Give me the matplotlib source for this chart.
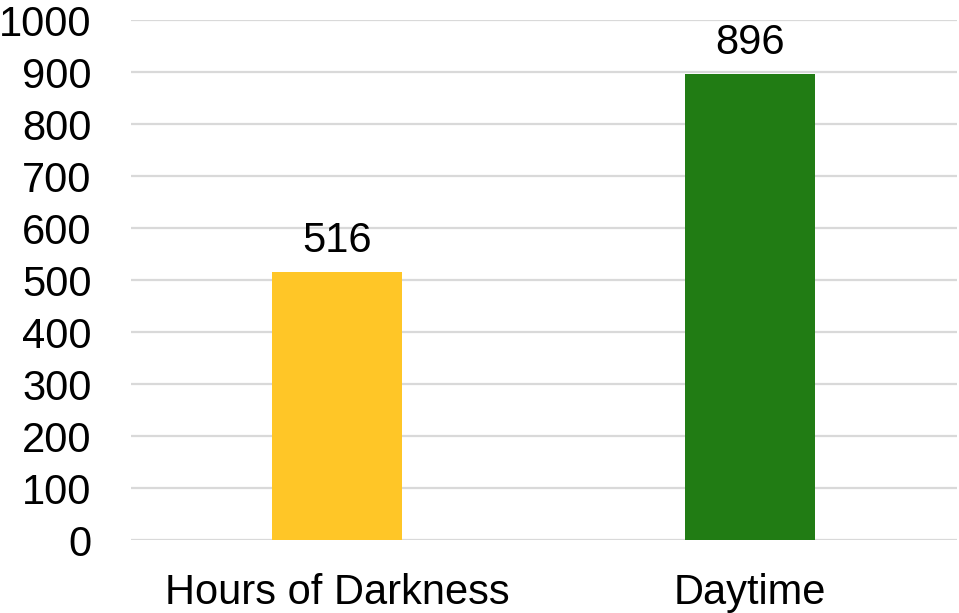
import matplotlib
matplotlib.use("Agg")
import matplotlib.pyplot as plt

categories = ["Hours of Darkness", "Daytime"]
values = [516, 896]
colors = ["#FFC627", "#217C14"]
yticks = [0, 100, 200, 300, 400, 500, 600, 700, 800, 900, 1000]

plt.rcParams['font.family'] = ['Liberation Sans', 'DejaVu Sans']

fig = plt.figure(figsize=(9.59, 6.13), dpi=100)
ax = fig.add_axes([130.5/959, 1-540/613, 826/959, 520/613])

x = range(len(categories))
bars = ax.bar(x, values, width=0.315, color=colors, zorder=2)
for xi, v in zip(x, values):
    ax.annotate(str(v), (xi, v), xytext=(0, 8), textcoords='offset points',
                ha='center', va='bottom', fontsize=30, color='black')

ax.set_xlim(-0.5, 1.5)
ax.set_ylim(0, 1000)
ax.set_yticks(yticks)
ax.set_yticklabels([str(t) for t in yticks])
ax.set_xticks(list(x))
ax.set_xticklabels(categories)
ax.tick_params(axis='y', length=0, pad=28, labelsize=30)
ax.tick_params(axis='x', length=0, pad=24, labelsize=30)
ax.grid(axis='y', color='#D9D9D9', linewidth=1.6, zorder=0)
ax.set_axisbelow(True)
for s in ax.spines.values():
    s.set_visible(False)

fig.savefig("out.png", dpi=100)
